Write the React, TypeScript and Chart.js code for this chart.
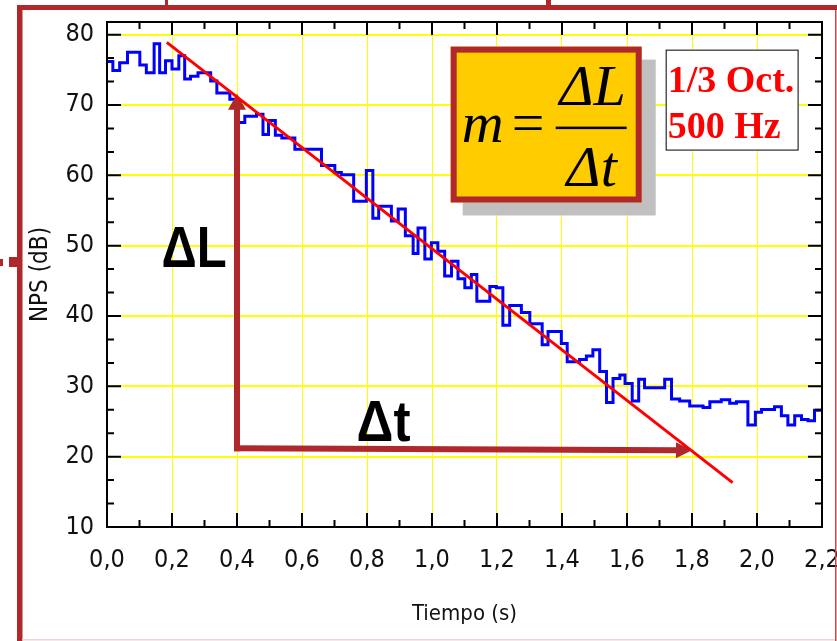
import React, { useEffect, useRef } from 'react';
import { Chart, registerables } from 'chart.js';

Chart.register(...registerables);

// ---------- data ----------
// Start time (s) of each step of the measured decay and its level (dB)
const stepTimes = [
  0.000, 0.018, 0.039, 0.063, 0.101, 0.121, 0.145, 0.162, 0.180, 0.200,
  0.221, 0.239, 0.257, 0.280, 0.319, 0.338, 0.378, 0.400, 0.424, 0.460,
  0.480, 0.497, 0.518, 0.538, 0.578, 0.660, 0.701, 0.721, 0.759, 0.798,
  0.818, 0.836, 0.875, 0.896, 0.918, 0.942, 0.957, 0.978, 0.998, 1.018,
  1.039, 1.060, 1.080, 1.101, 1.121, 1.138, 1.178, 1.198, 1.218, 1.239,
  1.275, 1.301, 1.339, 1.357, 1.398, 1.416, 1.454, 1.475, 1.495, 1.516,
  1.537, 1.557, 1.578, 1.594, 1.616, 1.636, 1.654, 1.716, 1.737, 1.762,
  1.793, 1.834, 1.855, 1.890, 1.916, 1.937, 1.972, 1.995, 2.014, 2.054,
  2.075, 2.095, 2.116, 2.137, 2.157, 2.177, 2.200,
];
const stepLevels = [
  76.2, 74.9, 76.0, 77.5, 75.7, 74.6, 78.7, 74.6, 76.3, 75.1,
  77.0, 73.7, 74.1, 74.6, 73.4, 71.7, 70.8, 67.5, 68.4, 68.7,
  65.8, 67.8, 65.7, 65.3, 63.7, 61.4, 60.4, 60.1, 56.3, 60.7,
  53.9, 55.6, 53.5, 55.2, 51.4, 48.9, 52.5, 48.1, 50.4, 49.2,
  45.7, 47.8, 45.3, 44.0, 45.9, 42.1, 44.2, 44.0, 38.7, 41.5,
  40.5, 38.9, 35.9, 37.8, 36.1, 33.5, 33.8, 34.3, 35.2, 32.1,
  27.7, 31.1, 31.6, 30.4, 27.9, 31.0, 29.8, 31.0, 28.2, 27.9,
  27.2, 27.0, 27.8, 28.1, 27.6, 27.8, 24.5, 26.3, 26.7, 27.1,
  25.8, 24.5, 25.8, 25.3, 25.1, 26.6, 26.6,
];
// Fitted regression line (endpoints)
const fitTimes = [0.184, 1.925];
const fitLevels = [78.9, 16.3];

// Tick labels
const xTickValues = [0, 0.2, 0.4, 0.6, 0.8, 1.0, 1.2, 1.4, 1.6, 1.8, 2.0, 2.2];
const yTickValues = [10, 20, 30, 40, 50, 60, 70, 80];

// Texts
const xTitle = 'Tiempo (s)';
const yTitle = 'NPS (dB)';
const legendLines = ['1/3 Oct.', '500 Hz'];
const deltaLText = '\u0394L';
const deltaTText = '\u0394t';

// Arrow end points (time, level)
const arrowCorner = [0.4, 21.2];
const arrowUpTip = [0.4, 71.6];
const arrowRightTip = [1.8, 20.9];

const FRAME_RED = '#B0282B';
const NARROW = '"Liberation Sans Narrow", "Arial Narrow", "DejaVu Sans Condensed", sans-serif';

const decoPlugin = {
  id: 'deco',
  afterDatasetDraw(chart: any, args: any) {
    if (args.index !== 1) return;
    const xs = chart.scales.x, ys = chart.scales.y;
    const px = (t: number) => xs.getPixelForValue(t);
    const py = (v: number) => ys.getPixelForValue(v);
    const ctx = chart.ctx;
    ctx.save();
    ctx.strokeStyle = FRAME_RED;
    ctx.fillStyle = FRAME_RED;
    ctx.lineWidth = 6;
    ctx.lineCap = 'butt';
    const cx = px(arrowCorner[0]), cy = py(arrowCorner[1]);
    // vertical arrow
    const ux = px(arrowUpTip[0]), uy = py(arrowUpTip[1]);
    ctx.beginPath();
    ctx.moveTo(cx, cy + 3);
    ctx.lineTo(ux, uy + 14);
    ctx.stroke();
    ctx.beginPath();
    ctx.moveTo(ux, uy);
    ctx.lineTo(ux - 9, uy + 16);
    ctx.lineTo(ux + 9, uy + 16);
    ctx.closePath();
    ctx.fill();
    // horizontal arrow
    const rx = px(arrowRightTip[0]), ry = py(arrowRightTip[1]);
    const dx = rx - cx, dy = ry - cy;
    const len = Math.hypot(dx, dy);
    const ex = dx / len, ey = dy / len;
    ctx.beginPath();
    ctx.moveTo(cx - 3, cy);
    ctx.lineTo(rx - ex * 14, ry - ey * 14);
    ctx.stroke();
    ctx.beginPath();
    ctx.moveTo(rx, ry);
    ctx.lineTo(rx - ex * 16 - ey * 8, ry - ey * 16 + ex * 8);
    ctx.lineTo(rx - ex * 16 + ey * 8, ry - ey * 16 - ex * 8);
    ctx.closePath();
    ctx.fill();
    ctx.restore();
  },
  afterDatasetsDraw(chart: any) {
    const xs = chart.scales.x, ys = chart.scales.y;
    const px = (t: number) => xs.getPixelForValue(t);
    const py = (v: number) => ys.getPixelForValue(v);
    const { left, right, top, bottom } = chart.chartArea;
    const ctx = chart.ctx;
    ctx.save();
    // plot frame
    ctx.strokeStyle = '#000';
    ctx.lineWidth = 2;
    ctx.strokeRect(left, top, right - left, bottom - top);
    // inward ticks
    ctx.beginPath();
    const xMin = xs.min, xMax = xs.max;
    for (let i = 0; xMin + i * 0.1 <= xMax + 1e-9; i++) {
      const x = px(xMin + i * 0.1);
      const major = i % 2 === 0;
      ctx.moveTo(x, bottom);
      ctx.lineTo(x, bottom - (major ? 14 : 7));
      ctx.moveTo(x, top);
      ctx.lineTo(x, top + (major ? 13 : 7));
    }
    for (let k = 0; ys.min + (k * 10) / 3 <= ys.max + 1e-9; k++) {
      const y = py(ys.min + (k * 10) / 3);
      const major = k % 3 === 0;
      ctx.moveTo(left, y);
      ctx.lineTo(left + (major ? 14 : 7), y);
      ctx.moveTo(right, y);
      ctx.lineTo(right - (major ? 14 : 7), y);
    }
    ctx.stroke();

    // ΔL and Δt labels (slightly condensed bold sans)
    ctx.fillStyle = '#000';
    ctx.textBaseline = 'alphabetic';
    ctx.textAlign = 'left';
    ctx.font = 'bold 57px "Liberation Sans", Arial, sans-serif';
    const drawNarrow = (txt: string, x: number, y: number, k: number) => {
      ctx.save();
      ctx.translate(x, y);
      ctx.scale(k, 1);
      ctx.fillText(txt, 0, 0);
      ctx.restore();
    };
    drawNarrow(deltaLText, px(0.168), py(46.9), 0.86);
    drawNarrow(deltaTText, px(0.768), py(22.2), 0.9);

    // formula box
    const bx = px(1.0575), by = py(78.3);
    const bw = px(1.6452) - bx, bh = py(56.14) - by;
    ctx.fillStyle = '#C0C0C0';
    ctx.fillRect(bx + 12, by + 13, bw + 2, bh);
    ctx.fillStyle = '#FFCC00';
    ctx.fillRect(bx, by, bw, bh);
    ctx.strokeStyle = FRAME_RED;
    ctx.lineWidth = 6;
    ctx.strokeRect(bx + 3, by + 3, bw - 6, bh - 6);
    ctx.fillStyle = '#000';
    ctx.font = 'italic 58px "Liberation Serif", "Times New Roman", serif';
    ctx.textAlign = 'left';
    ctx.fillText('m', bx + 11, by + 95);
    ctx.font = '58px "Liberation Serif", "Times New Roman", serif';
    ctx.fillText('=', bx + 61, by + 95);
    ctx.fillRect(bx + 105, by + 80, 71, 2.5);
    ctx.font = 'italic 58px "Liberation Serif", "Times New Roman", serif';
    ctx.textAlign = 'center';
    ctx.fillText('\u0394L', bx + 142, by + 58);
    ctx.fillText('\u0394t', bx + 141, by + 139);

    // legend box
    const lx = px(1.719), ly = py(77.87);
    const lw = px(2.128) - lx, lh = py(63.52) - ly;
    ctx.fillStyle = '#FFF';
    ctx.fillRect(lx, ly, lw, lh);
    ctx.strokeStyle = '#000';
    ctx.lineWidth = 1;
    ctx.strokeRect(lx + 0.5, ly + 0.5, lw - 1, lh - 1);
    ctx.fillStyle = '#FF0000';
    ctx.textAlign = 'left';
    ctx.font = 'bold 38px "Liberation Serif", "Times New Roman", serif';
    ctx.fillText(legendLines[0], lx + 2, ly + 42);
    ctx.fillText(legendLines[1], lx + 2, ly + 88);
    ctx.restore();
  },
  afterDraw(chart: any) {
    const ctx = chart.ctx;
    const W = chart.width, H = chart.height;
    ctx.save();
    ctx.fillStyle = FRAME_RED;
    ctx.fillRect(17, 5, W - 17, 5);
    ctx.fillRect(17, 5, 5.5, H - 5);
    ctx.fillRect(165, 0, 3, 6);
    ctx.fillRect(546, 0, 5, 6);
    ctx.fillRect(0, 259, 3, 7);
    ctx.fillRect(9, 257, 8, 10);
    ctx.fillStyle = '#C84848';
    ctx.fillRect(W - 2, 10, 1.5, H - 10);
    ctx.fillStyle = '#F2D0D4';
    ctx.fillRect(22, H - 2, W - 24, 1.5);
    ctx.restore();
  },
};

export default function App() {
  const canvasRef = useRef<HTMLCanvasElement | null>(null);

  useEffect(() => {
    const canvas = canvasRef.current;
    if (!canvas) return;
    const stepData = stepTimes.map((t, i) => ({ x: t, y: stepLevels[i] }));
    const fitData = fitTimes.map((t, i) => ({ x: t, y: fitLevels[i] }));
    const tickFont = { family: NARROW, size: 25 };

    const chart = new Chart(canvas, {
      type: 'line',
      data: {
        datasets: [
          {
            label: 'Ajuste',
            data: fitData,
            borderColor: '#FF0000',
            borderWidth: 3,
            pointRadius: 0,
            fill: false,
            order: 0,
          },
          {
            label: 'NPS',
            data: stepData,
            borderColor: '#0000FF',
            borderWidth: 3,
            pointRadius: 0,
            stepped: true,
            fill: false,
            order: 1,
          },
        ],
      },
      options: {
        responsive: false,
        animation: false,
        events: [],
        layout: { padding: { left: 0, top: 22, right: 15, bottom: 0 } },
        plugins: {
          legend: { display: false },
          tooltip: { enabled: false },
        },
        scales: {
          x: {
            type: 'linear',
            min: 0,
            max: 2.2,
            afterBuildTicks: (s: any) => {
              s.ticks = xTickValues.map((value) => ({ value }));
            },
            afterFit: (s: any) => {
              s.height = 114;
              s.paddingLeft = 0;
              s.paddingRight = 0;
            },
            grid: { color: '#FFFF00', lineWidth: 1, drawTicks: false },
            border: { display: false },
            ticks: {
              autoSkip: false,
              maxRotation: 0,
              padding: 18,
              color: '#111',
              font: tickFont,
              callback: (v: any) => Number(v).toFixed(1).replace('.', ','),
            },
            title: {
              display: true,
              text: xTitle,
              color: '#111',
              font: { family: NARROW, size: 22 },
              padding: { top: 0, bottom: 14 },
            },
          },
          y: {
            type: 'linear',
            min: 10,
            max: 81.8,
            afterBuildTicks: (s: any) => {
              s.ticks = yTickValues.map((value) => ({ value }));
            },
            afterFit: (s: any) => {
              s.width = 107;
              s.paddingTop = 0;
              s.paddingBottom = 0;
            },
            grid: { color: '#FFFF00', lineWidth: 2, drawTicks: false },
            border: { display: false },
            ticks: {
              autoSkip: false,
              padding: 13,
              color: '#111',
              font: tickFont,
              callback: (v: any) => String(v),
            },
            title: {
              display: true,
              text: yTitle,
              color: '#111',
              font: { family: NARROW, size: 24 },
              padding: { top: 26, bottom: 0 },
            },
          },
        },
      },
      plugins: [decoPlugin],
    } as any);
    return () => chart.destroy();
  }, []);

  return (
    <div style={{ position: 'absolute', left: 0, top: 0, width: 837, height: 641, background: '#fff' }}>
      <canvas ref={canvasRef} width={837} height={641} style={{ display: 'block' }} />
    </div>
  );
}
